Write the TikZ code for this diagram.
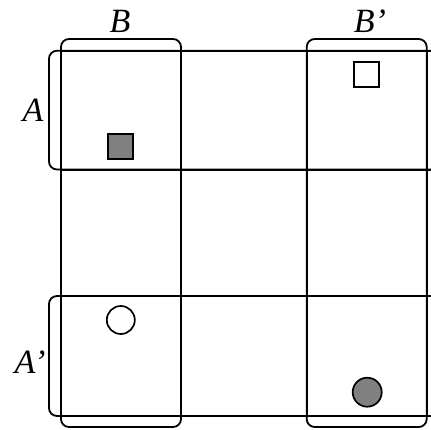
\documentclass[tikz,border=0pt]{standalone}
\usepackage{fontspec}
\setmainfont{Liberation Serif}
\begin{document}
\begin{tikzpicture}[x=1pt,y=-1pt,
  gridline/.style={line width=1.8pt},
  grp/.style={line width=1.8pt, rounded corners=8pt},
  lab/.style={font=\fontsize{34}{38}\selectfont\itshape, inner sep=0pt},
  symb/.style={line width=1.7pt, draw=black}]
\useasboundingbox (0,0) rectangle (431,429);
\clip (0,0) rectangle (431,429);
% grid
\foreach \y in {50.7,170,296,416} \draw[gridline] (61,\y) -- (440,\y);
\foreach \x in {61,181,306.7,426.7} \draw[gridline] (\x,50.7) -- (\x,416);
% groups
\draw[grp] (61,427) rectangle (181,39);
\draw[grp] (306.7,427) rectangle (426.7,39);
\draw[grp] (49,50.7) rectangle (460,169.5);
\draw[grp] (49,296) rectangle (460,416);
% labels
\node[lab] (lB) at (120,21) {B};
\node[lab] (lBp) at (370,21) {B’};
\node[lab] (lA) at (33,110) {A};
\node[lab] (lAp) at (30,362) {A’};
% marks
\node[symb, fill=black!50, minimum size=25pt, inner sep=0pt] (fs) at (120.8,146.2) {};
\node[symb, fill=white, minimum size=25pt, inner sep=0pt] (os) at (366.7,74.2) {};
\node[symb, circle, fill=white, minimum size=28pt, inner sep=0pt] (oc) at (120.8,320) {};
\node[symb, circle, fill=black!50, minimum size=29pt, inner sep=0pt] (fc) at (367.2,392.2) {};
\end{tikzpicture}
\end{document}
